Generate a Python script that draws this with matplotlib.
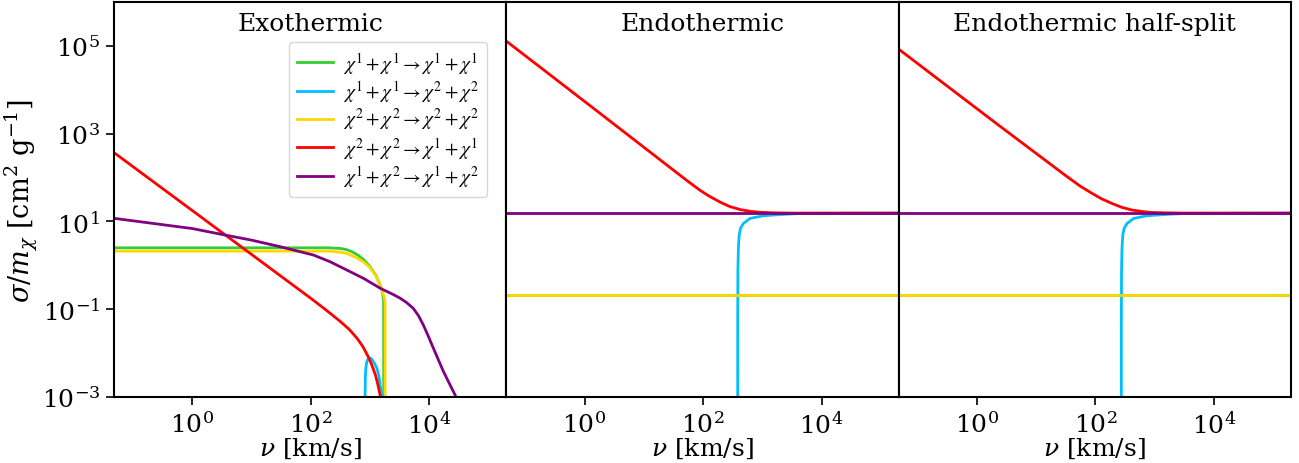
import numpy as np
import matplotlib
matplotlib.use("Agg")
import matplotlib.pyplot as plt

plt.rcParams['font.family'] = 'DejaVu Serif'
plt.rcParams['mathtext.fontset'] = 'dejavuserif'
plt.rcParams['font.size'] = 18

panel_titles = ['Exothermic', 'Endothermic', 'Endothermic half-split']
labels = [r'$\chi^1+\chi^1\rightarrow\chi^1+\chi^1$',
          r'$\chi^1+\chi^1\rightarrow\chi^2+\chi^2$',
          r'$\chi^2+\chi^2\rightarrow\chi^2+\chi^2$',
          r'$\chi^2+\chi^2\rightarrow\chi^1+\chi^1$',
          r'$\chi^1+\chi^2\rightarrow\chi^1+\chi^2$']
colors = ['limegreen', 'deepskyblue', 'gold', 'red', 'purple']

# --- exothermic ---
exo_11_11_v = [0.05, 200, 316, 398, 501, 631, 794, 1000, 1259, 1479, 1622, 1698, 1718]
exo_11_11_s = [2.51, 2.51, 2.43, 2.29, 2.04, 1.70, 1.32, 0.93, 0.59, 0.36, 0.24, 0.158, 1e-6]
exo_11_22_v = [826, 828, 835, 850, 880, 930, 977, 1040, 1100, 1200, 1300, 1400, 1480, 1590, 1680]
exo_11_22_s = [1e-6, 1.26e-3, 2.8e-3, 4.5e-3, 6.3e-3, 7.4e-3, 7.8e-3, 7.6e-3, 6.9e-3,
               5.75e-3, 4.6e-3, 3.2e-3, 1.9e-3, 1.1e-3, 5e-4]
exo_22_22_v = [0.05, 200, 316, 407, 562, 776, 1000, 1230, 1413, 1585, 1738, 1799, 1803]
exo_22_22_s = [2.11, 2.11, 2.0, 1.86, 1.55, 1.20, 0.89, 0.60, 0.42, 0.275, 0.19, 0.141, 1e-6]
exo_22_11_v = [0.05, 1, 10, 100, 178, 316, 447, 603, 759, 933, 1072, 1230, 1349, 1479, 1585]
exo_22_11_s = [355, 17.8, 1.78, 0.178, 0.098, 0.0525, 0.0347, 0.0219, 0.0141, 0.0083,
               0.0054, 0.00324, 0.0020, 0.00112, 0.00063]
exo_12_12_v = [0.05, 1, 3.6, 10, 30.5, 111, 212, 398, 775, 1480, 2512, 3240, 4169, 5370,
               6607, 7943, 9550, 11750, 17380, 22390, 27230, 31620]
exo_12_12_s = [11.7, 6.9, 4.9, 3.76, 2.66, 1.72, 1.21, 0.794, 0.507, 0.302, 0.214, 0.178,
               0.141, 0.105, 0.0708, 0.0437, 0.0251, 0.0129, 0.0038, 0.0019, 0.00112, 0.00063]

# --- endothermic ---
endo_11_11_v = [0.05, 2e5]
endo_11_11_s = [0.21, 0.21]
endo_11_22_v = [384, 385, 388, 395, 408, 430, 480, 620, 1040, 2240, 5000, 2e5]
endo_11_22_s = [1e-6, 0.05, 0.8, 2.5, 5.0, 7.0, 9.0, 11.7, 13.5, 14.5, 15.3, 15.5]
endo_22_22_v = [0.05, 2e5]
endo_22_22_s = [0.21, 0.21]
endo_22_11_v = [0.05, 2.4, 31.6, 56.2, 89.1, 126, 195, 282, 427, 631, 912, 1585, 3160, 2e5]
endo_22_11_s = [1.23e5, 2190, 148, 81.3, 51.3, 38.0, 27.5, 21.9, 18.6, 17.0, 16.2, 15.7,
                15.5, 15.5]
endo_12_12_v = [0.05, 2e5]
endo_12_12_s = [15.5, 15.5]

# --- endothermic half-split ---
half_11_11_v = [0.05, 2e5]
half_11_11_s = [0.21, 0.21]
half_11_22_v = [274, 275, 277, 282, 291, 307, 343, 443, 743, 1600, 3600, 2e5]
half_11_22_s = [1e-6, 0.05, 0.8, 2.5, 5.0, 7.0, 9.0, 11.7, 13.5, 14.5, 15.3, 15.5]
half_22_22_v = [0.05, 2e5]
half_22_22_s = [0.21, 0.21]
half_22_11_v = [0.05, 2.35, 31.3, 56.2, 88, 126, 191, 282, 417, 631, 912, 1585, 3160, 2e5]
half_22_11_s = [8.1e4, 1550, 112, 63.1, 43.7, 33.1, 25.7, 20.9, 18.2, 16.8, 16.0, 15.7,
                15.5, 15.5]
half_12_12_v = [0.05, 2e5]
half_12_12_s = [15.5, 15.5]

panels = [
    [(exo_11_11_v, exo_11_11_s), (exo_11_22_v, exo_11_22_s), (exo_22_22_v, exo_22_22_s),
     (exo_22_11_v, exo_22_11_s), (exo_12_12_v, exo_12_12_s)],
    [(endo_11_11_v, endo_11_11_s), (endo_11_22_v, endo_11_22_s), (endo_22_22_v, endo_22_22_s),
     (endo_22_11_v, endo_22_11_s), (endo_12_12_v, endo_12_12_s)],
    [(half_11_11_v, half_11_11_s), (half_11_22_v, half_11_22_s), (half_22_22_v, half_22_22_s),
     (half_22_11_v, half_22_11_s), (half_12_12_v, half_12_12_s)],
]

fig, axes = plt.subplots(1, 3, figsize=(12.99, 4.64), dpi=100, sharey=True)
fig.subplots_adjust(left=0.0878, right=0.9938, bottom=0.1422, top=0.9935, wspace=0)

for i, (ax, title, curves) in enumerate(zip(axes, panel_titles, panels)):
    for (v, s), c, lab in zip(curves, colors, labels):
        ax.plot(v, s, color=c, lw=2, label=lab)
    ax.set_xscale('log')
    ax.set_yscale('log')
    ax.set_xlim(0.048, 2e5)
    ax.set_ylim(1e-3, 1e6)
    ax.set_xticks([1, 1e2, 1e4])
    ax.set_yticks([1e-3, 1e-1, 1e1, 1e3, 1e5])
    ax.minorticks_off()
    ax.tick_params(direction='out', length=6, width=1.2, pad=4)
    if i > 0:
        ax.tick_params(axis='y', left=False)
    for sp in ax.spines.values():
        sp.set_linewidth(1.5)
    ax.text(0.5, 0.975, title, transform=ax.transAxes, ha='center', va='top')
    ax.set_xlabel(r'$\nu$ [km/s]', labelpad=-1)

axes[0].set_ylabel(r'$\sigma/m_\chi$ [cm$^2$ g$^{-1}$]', fontsize=19.5)
axes[0].yaxis.set_label_coords(-0.19, 0.5)

leg = axes[0].legend(loc='upper right', bbox_to_anchor=(0.95, 0.899), borderaxespad=0,
                     fontsize=14, handlelength=1.85, handletextpad=0.5, labelspacing=0.12)
for t in leg.get_texts():
    t.set_math_fontfamily('stix')

fig.savefig('out.png', dpi=100)
